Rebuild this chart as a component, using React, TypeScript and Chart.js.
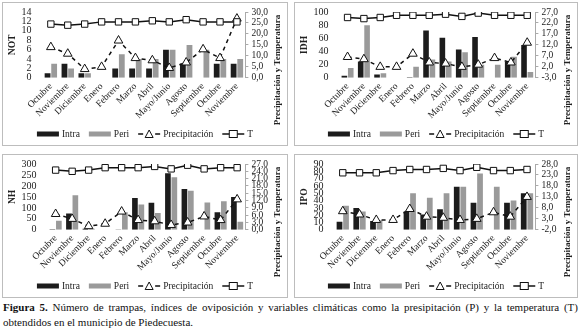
import React, { useEffect, useRef } from 'react';
import { Chart, registerables } from 'chart.js';
Chart.register(...registerables);

const FONT = "'Liberation Serif', 'Times New Roman', serif";

const months = ['Octubre', 'Noviembre', 'Diciembre', 'Enero', 'Febrero', 'Marzo', 'Abril', 'Mayo/Junio', 'Agosto', 'Septiembre', 'Octubre', 'Noviembre'];

// Panel NOT
const notIntra = [1, 3, 1, 0, 2, 2, 2, 6, 3, 0, 3, 3];
const notPeri = [3, 2, 1, 0, 5, 4, 4, 6, 7, 6, 4, 4];
const notPrecip = [14, 11, 4, 5, 17, 9, 8, 4.5, 7, 13, 9, 27];
const notT = [24.5, 24, 24.5, 25.5, 25.5, 25.5, 26, 25.5, 26.5, 25.5, 25.5, 25.5];

// Panel IDH
const idhIntra = [3, 25, 5, 0, 1, 72, 61, 43, 62, 0, 25, 50];
const idhPeri = [15, 80, 7, 0, 17, 28, 25, 39, 20, 20, 32, 9];
const idhPrecip = [6.5, 5.5, 2, 2, 8, 4, 3.5, 2, 3, 6, 4, 13];
const idhT = [24.5, 24, 24.5, 25.5, 25.5, 25.5, 26, 25, 26.5, 25.5, 25.5, 25.5];

// Panel NH
const nhIntra = [3, 75, 5, 0, 2, 145, 123, 258, 186, 0, 80, 150];
const nhPeri = [42, 158, 5, 0, 80, 115, 77, 240, 178, 125, 130, 37];
const nhPrecip = [6.5, 4.5, 1.5, 2.5, 7.5, 4, 3.5, 2, 3, 5.5, 4, 12.5];
const nhT = [24.5, 24, 24.5, 25.5, 25.5, 25.5, 26, 25, 26.5, 25, 25.5, 25.5];

// Panel IPO
const ipoIntra = [11, 30, 12, 0, 25, 21, 28, 59, 37, 0, 37, 50];
const ipoPeri = [33, 25, 13, 0, 50, 44, 50, 59, 77, 59, 40, 50];
const ipoPrecip = [6.5, 5, 2.5, 2.5, 7.5, 4, 3.5, 2.5, 3, 6, 4, 13];
const ipoT = [24, 24, 24, 25, 25.5, 25.5, 26, 25, 26.5, 25, 25, 25.5];

const legendLabels = ['Intra', 'Peri', 'Precipitación', 'T'];
const rightTitle = 'Precipitación y Temperatura';

const INTRA = '#1c1c1c';
const PERI = '#9a9a9a';
const TXT = '#222';

function drawIcon(ctx: CanvasRenderingContext2D, kind: number, x: number, y: number) {
  ctx.save();
  ctx.strokeStyle = '#111';
  ctx.lineWidth = 1.5;
  if (kind === 0 || kind === 1) {
    ctx.fillStyle = kind === 0 ? INTRA : PERI;
    ctx.fillRect(x, y - 2.5, 22, 5);
  } else if (kind === 2) {
    ctx.beginPath();
    ctx.moveTo(x, y); ctx.lineTo(x + 5, y);
    ctx.moveTo(x + 17, y); ctx.lineTo(x + 22, y);
    ctx.stroke();
    ctx.lineWidth = 1;
    ctx.fillStyle = '#fff';
    ctx.beginPath();
    ctx.moveTo(x + 11, y - 4); ctx.lineTo(x + 15, y + 3.5); ctx.lineTo(x + 7, y + 3.5); ctx.closePath();
    ctx.fill(); ctx.stroke();
  } else {
    ctx.beginPath();
    ctx.moveTo(x, y); ctx.lineTo(x + 22, y);
    ctx.stroke();
    ctx.lineWidth = 1;
    ctx.fillStyle = '#fff';
    ctx.fillRect(x + 7, y - 3.5, 8, 7);
    ctx.strokeRect(x + 7, y - 3.5, 8, 7);
  }
  ctx.restore();
}

const fmtRight = (v: number) => v.toFixed(1).replace('.', ',');

type PanelProps = {
  left: number; top: number; width: number; height: number;
  yTitle: string;
  intra: number[]; peri: number[]; precip: number[]; temp: number[];
  yMin: number; yMax: number; yStep: number;
  rMin: number; rMax: number; rStep: number;
};

function Panel(p: PanelProps) {
  const ref = useRef<HTMLCanvasElement>(null);
  useEffect(() => {
    const decorPlugin = {
      id: 'decor',
      afterDraw(chart: any) {
        const ctx: CanvasRenderingContext2D = chart.ctx;
        ctx.save();
        ctx.translate(chart.width - 9, 67);
        ctx.rotate(-Math.PI / 2);
        ctx.font = `bold 9px ${FONT}`;
        ctx.fillStyle = TXT;
        ctx.textAlign = 'center';
        ctx.textBaseline = 'middle';
        ctx.fillText(rightTitle, 0, 0);
        ctx.restore();
        ctx.save();
        ctx.font = `9.5px ${FONT}`;
        const gap = 9;
        const widths = legendLabels.map((t) => 22 + 3 + ctx.measureText(t).width);
        const total = widths.reduce((a, b) => a + b, 0) + gap * (widths.length - 1);
        let x = (chart.width - total) / 2;
        const y = chart.height - 11;
        ctx.textBaseline = 'middle';
        ctx.textAlign = 'left';
        legendLabels.forEach((t, i) => {
          drawIcon(ctx, i, x, y);
          ctx.fillStyle = TXT;
          ctx.fillText(t, x + 25, y + 0.5);
          x += widths[i] + gap;
        });
        ctx.restore();
      },
    };
    const chart = new Chart(ref.current!, {
      type: 'bar',
      data: {
        labels: months,
        datasets: [
          { type: 'bar', label: legendLabels[0], data: p.intra, backgroundColor: INTRA, yAxisID: 'y', order: 2, categoryPercentage: 0.78, barPercentage: 0.88 },
          { type: 'bar', label: legendLabels[1], data: p.peri, backgroundColor: PERI, yAxisID: 'y', order: 2, categoryPercentage: 0.78, barPercentage: 0.88 },
          { type: 'line', label: legendLabels[2], data: p.precip, yAxisID: 'y1', order: 1, borderColor: '#111', borderWidth: 1.5, borderDash: [4, 4], pointStyle: 'triangle', pointRadius: 5, pointBackgroundColor: '#fff', pointBorderColor: '#111', pointBorderWidth: 1 },
          { type: 'line', label: legendLabels[3], data: p.temp, yAxisID: 'y1', order: 0, borderColor: '#111', borderWidth: 1.5, pointStyle: 'rect', pointRadius: 4.5, pointBackgroundColor: '#fff', pointBorderColor: '#111', pointBorderWidth: 1 },
        ] as any,
      },
      options: {
        animation: false,
        responsive: false,
        maintainAspectRatio: false,
        layout: { padding: { left: 4, right: 16, top: 8, bottom: 21 } },
        plugins: {
          tooltip: { enabled: false },
          legend: { display: false },
        },
        scales: {
          x: {
            grid: { display: false, drawTicks: false },
            border: { display: false },
            ticks: { maxRotation: 45, minRotation: 45, autoSkip: false, padding: 3, color: TXT, font: { family: FONT, size: 9.5 } },
          },
          y: {
            position: 'left',
            min: p.yMin, max: p.yMax,
            grid: { display: false },
            border: { display: false },
            ticks: { stepSize: p.yStep, autoSkip: false, color: TXT, padding: 3, font: { family: FONT, size: 10 } },
            title: { display: true, text: p.yTitle, color: TXT, padding: 0, font: { family: FONT, size: 9.5, weight: 'bold' } },
          },
          y1: {
            position: 'right',
            min: p.rMin, max: p.rMax,
            grid: { drawOnChartArea: false, tickLength: 3, color: '#aaa' },
            border: { display: true, color: '#aaa' },
            ticks: { stepSize: p.rStep, autoSkip: false, color: TXT, padding: 3, font: { family: FONT, size: 9.5 }, callback: (v: any) => fmtRight(Number(v)) },
          },
        },
      } as any,
      plugins: [decorPlugin],
    });
    return () => chart.destroy();
  }, []);
  return (
    <div style={{ position: 'absolute', left: p.left, top: p.top, width: p.width, height: p.height, border: '1px solid #bdbdbd', boxSizing: 'border-box', background: '#fff' }}>
      <canvas ref={ref} width={p.width - 2} height={p.height - 2} style={{ display: 'block' }} />
    </div>
  );
}

export default function App() {
  return (
    <div style={{ position: 'absolute', left: 0, top: 0, width: 580, height: 332, background: '#fff', fontFamily: FONT }}>
      <Panel left={2} top={2} width={286} height={144} yTitle="NOT" intra={notIntra} peri={notPeri} precip={notPrecip} temp={notT} yMin={0} yMax={14} yStep={2} rMin={0} rMax={30} rStep={5} />
      <Panel left={294} top={2} width={284} height={144} yTitle="IDH" intra={idhIntra} peri={idhPeri} precip={idhPrecip} temp={idhT} yMin={0} yMax={100} yStep={20} rMin={-3} rMax={27} rStep={5} />
      <Panel left={2} top={154} width={286} height={144} yTitle="NH" intra={nhIntra} peri={nhPeri} precip={nhPrecip} temp={nhT} yMin={0} yMax={300} yStep={50} rMin={0} rMax={27} rStep={3} />
      <Panel left={294} top={154} width={284} height={144} yTitle="IPO" intra={ipoIntra} peri={ipoPeri} precip={ipoPrecip} temp={ipoT} yMin={0} yMax={90} yStep={10} rMin={-2} rMax={28} rStep={5} />
      <div style={{ position: 'absolute', left: 3, top: 300, width: 575, fontSize: 11, lineHeight: '15px', color: '#111', textAlign: 'justify' }}>
        <b>Figura 5.</b> Número de trampas, índices de oviposición y variables climáticas como la presipitación (P) y la temperatura (T) obtendidos en el municipio de Piedecuesta.
      </div>
    </div>
  );
}
